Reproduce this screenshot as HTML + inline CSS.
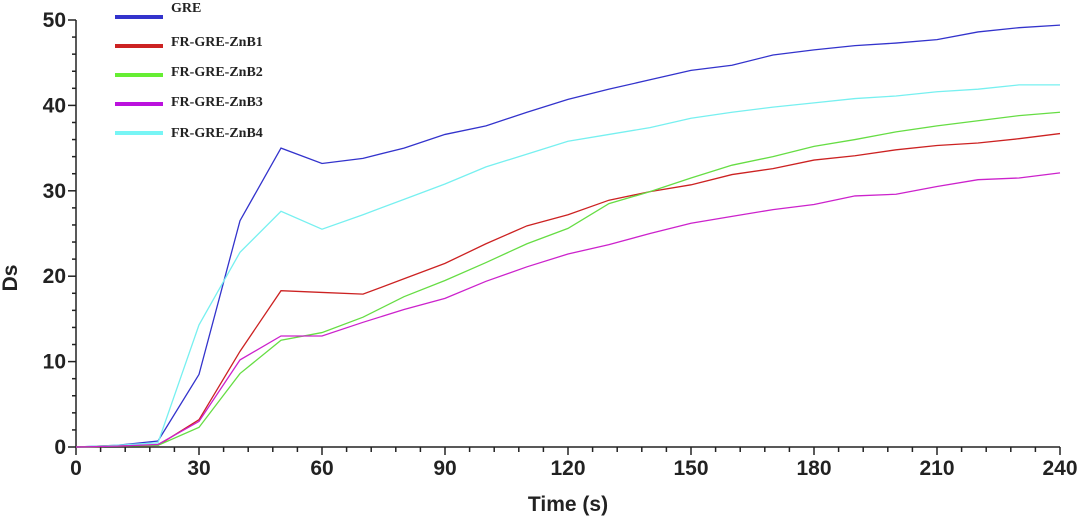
<!DOCTYPE html>
<html><head><meta charset="utf-8"><style>
html,body{margin:0;padding:0;background:#fff;width:1080px;height:517px;overflow:hidden}
svg{display:block}
.t{font-family:"Liberation Sans",Arial,sans-serif;font-size:21px;font-weight:bold;fill:#222}
.lg{font-family:"Liberation Serif",serif;font-size:14px;font-weight:bold;fill:#222}
</style></head><body>
<svg id="s" width="1080" height="517" xmlns="http://www.w3.org/2000/svg">
<g id="ax" stroke="#222" stroke-width="1.5" fill="none"></g>
<g id="lines" fill="none" stroke-width="1.3"></g>
<g class="lg">
<line x1="115" y1="17" x2="163" y2="17" stroke="#3333cc" stroke-width="4"/><text x="171" y="12" class="lg">GRE</text>
<line x1="115" y1="46" x2="163" y2="46" stroke="#cc2222" stroke-width="4"/><text x="171" y="46" class="lg">FR-GRE-ZnB1</text>
<line x1="115" y1="75" x2="163" y2="75" stroke="#66ee33" stroke-width="4"/><text x="171" y="76" class="lg">FR-GRE-ZnB2</text>
<line x1="115" y1="104" x2="163" y2="104" stroke="#bb11dd" stroke-width="4"/><text x="171" y="106" class="lg">FR-GRE-ZnB3</text>
<line x1="115" y1="133" x2="163" y2="133" stroke="#77f5f5" stroke-width="4"/><text x="171" y="137" class="lg">FR-GRE-ZnB4</text>
</g>
<text class="t" x="9" y="286" transform="rotate(-90 9 278)" text-anchor="middle">Ds</text>
<text class="t" x="568" y="511" text-anchor="middle">Time (s)</text>
</svg>
<script>
var X0=76,XS=4.1,Y0=447,YS=8.54,ns="http://www.w3.org/2000/svg";
function X(v){return X0+v*XS}function Y(v){return Y0-v*YS}
var ax=document.getElementById('ax'),svg=document.getElementById('s');
function el(p,t,a){var e=document.createElementNS(ns,t);for(var k in a)e.setAttribute(k,a[k]);p.appendChild(e);return e}
el(ax,'line',{x1:X0,y1:Y(0),x2:X0,y2:Y(50)});
el(ax,'line',{x1:X0,y1:Y0,x2:X(240),y2:Y0});
for(var v=0;v<=50;v+=2){var maj=v%10==0;el(ax,'line',{x1:X0-(maj?8:4),y1:Y(v),x2:X0,y2:Y(v)});
if(maj){var t=el(svg,'text',{x:X0-10,y:Y(v)+7,'class':'t','text-anchor':'end'});t.textContent=v;}}
for(var v=0;v<=240;v+=6){var maj=v%30==0;el(ax,'line',{x1:X(v),y1:Y0,x2:X(v),y2:Y0+(maj?8:5)});
if(maj){var t=el(svg,'text',{x:X(v),y:Y0+28,'class':'t','text-anchor':'middle'});t.textContent=v;}}
var D=[
["#3333cc",[0,0.2,0.7,8.5,26.5,35,33.2,33.8,35,36.6,37.6,39.2,40.7,41.9,43,44.1,44.7,45.9,46.5,47,47.3,47.7,48.6,49.1,49.4]],
["#77f0f0",[0,0.2,0.5,14.3,22.8,27.6,25.5,27.2,29,30.8,32.8,34.3,35.8,36.6,37.4,38.5,39.2,39.8,40.3,40.8,41.1,41.6,41.9,42.4,42.4]],
["#cc2222",[0,0.1,0.2,3.2,11.2,18.3,18.1,17.9,19.7,21.5,23.8,25.9,27.2,28.9,29.9,30.7,31.9,32.6,33.6,34.1,34.8,35.3,35.6,36.1,36.7]],
["#66dd44",[0,0.1,0.2,2.3,8.6,12.5,13.4,15.2,17.6,19.5,21.6,23.8,25.6,28.5,29.9,31.5,33,34,35.2,36,36.9,37.6,38.2,38.8,39.2]],
["#cc22cc",[0,0.1,0.3,3,10.2,13,13,14.6,16.1,17.4,19.4,21.1,22.6,23.7,25,26.2,27,27.8,28.4,29.4,29.6,30.5,31.3,31.5,32.1]]];
var g=document.getElementById('lines');
D.forEach(function(d){var p=d[1].map(function(v,i){return X(i*10)+','+Y(v)}).join(' ');el(g,'polyline',{points:p,stroke:d[0]});});
</script>
</body></html>
